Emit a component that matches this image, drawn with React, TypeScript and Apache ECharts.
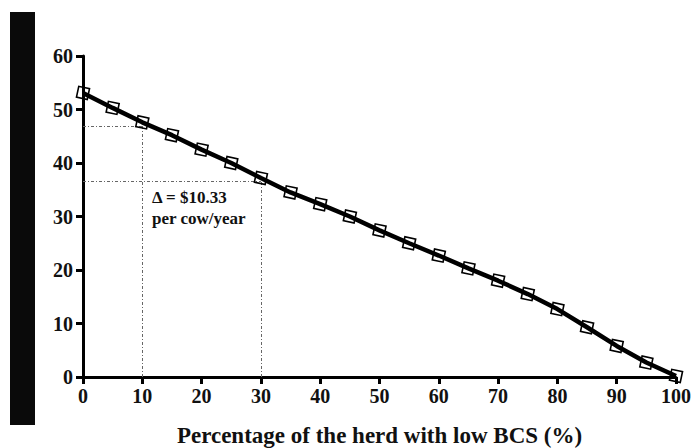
import React, { useEffect, useRef } from "react";
import * as echarts from "echarts";

const xValues = [0, 5, 10, 15, 20, 25, 30, 35, 40, 45, 50, 55, 60, 65, 70, 75, 80, 85, 90, 95, 100];
const yValues = [53.1, 50.3, 47.6, 45.2, 42.5, 40.0, 37.2, 34.5, 32.3, 30.0, 27.4, 25.0, 22.7, 20.3, 18.0, 15.5, 12.7, 9.3, 5.8, 2.7, 0.2];
const xTicks = [0, 10, 20, 30, 40, 50, 60, 70, 80, 90, 100];
const refX = [10, 30];
const refY = [46.9, 36.57];
const xTitle = "Percentage of the herd with low BCS (%)";
const noteLines = ["Δ = $10.33", "per cow/year"];

const FONT = "'Liberation Serif', 'Times New Roman', serif";

export default function App() {
  const ref = useRef<HTMLDivElement>(null);
  useEffect(() => {
    if (!ref.current) return;
    const chart = echarts.init(ref.current, undefined, { renderer: "svg" });
    const dash = { type: [3, 2, 1, 2] as any, color: "#666", width: 1 };
    const markData: any[] = [];
    refX.forEach((x, i) => {
      markData.push([{ coord: [0, refY[i]] }, { coord: [x, refY[i]] }]);
      markData.push([{ coord: [x, 0] }, { coord: [x, refY[i]] }]);
    });
    chart.setOption({
      animation: false,
      backgroundColor: "#fff",
      grid: { left: 83, right: 20, top: 56, bottom: 71, outerBoundsMode: "none", containLabel: false },
      xAxis: {
        type: "value",
        min: 0,
        max: 100,
        interval: 10,
        name: xTitle,
        nameLocation: "middle",
        nameGap: 47,
        nameTextStyle: { fontFamily: FONT, fontWeight: "bold", fontSize: 23, color: "#111" },
        axisLine: { lineStyle: { color: "#000", width: 3 } },
        axisTick: { show: true, length: 7, lineStyle: { color: "#000", width: 3 } },
        axisLabel: {
          fontFamily: FONT,
          fontWeight: "bold",
          fontSize: 20,
          color: "#111",
          margin: 9,
          customValues: xTicks,
        },
        splitLine: { show: false },
      },
      yAxis: {
        type: "value",
        min: 0,
        max: 60,
        interval: 10,
        axisLine: { show: true, lineStyle: { color: "#000", width: 3 } },
        axisTick: { show: true, length: 7, lineStyle: { color: "#000", width: 3 } },
        axisLabel: { fontFamily: FONT, fontWeight: "bold", fontSize: 20, color: "#111", margin: 10 },
        splitLine: { show: false },
      },
      series: [
        {
          type: "line",
          data: xValues.map((x, i) => [x, yValues[i]]),
          symbol: "rect",
          symbolSize: 11,
          symbolRotate: -12,
          lineStyle: { color: "#000", width: 4.5 },
          itemStyle: { color: "rgba(255,255,255,0)", borderColor: "#000", borderWidth: 1.6 },
          z: 3,
          markLine: {
            silent: true,
            symbol: ["none", "none"],
            label: { show: false },
            lineStyle: dash,
            data: markData,
            z: 1,
          },
        },
      ],
      graphic: [
        {
          type: "rect",
          shape: { x: 10, y: 12, width: 25, height: 413 },
          style: { fill: "#0a0a0a" },
          z: 0,
        },
        {
          type: "text",
          left: 152,
          top: 187,
          style: {
            text: noteLines.join("\n"),
            font: `bold 17px ${FONT}`,
            fill: "#111",
            lineHeight: 21,
          },
        },
      ],
    });
    return () => chart.dispose();
  }, []);
  return <div ref={ref} style={{ position: "fixed", left: 0, top: 0, width: 696, height: 448 }} />;
}
